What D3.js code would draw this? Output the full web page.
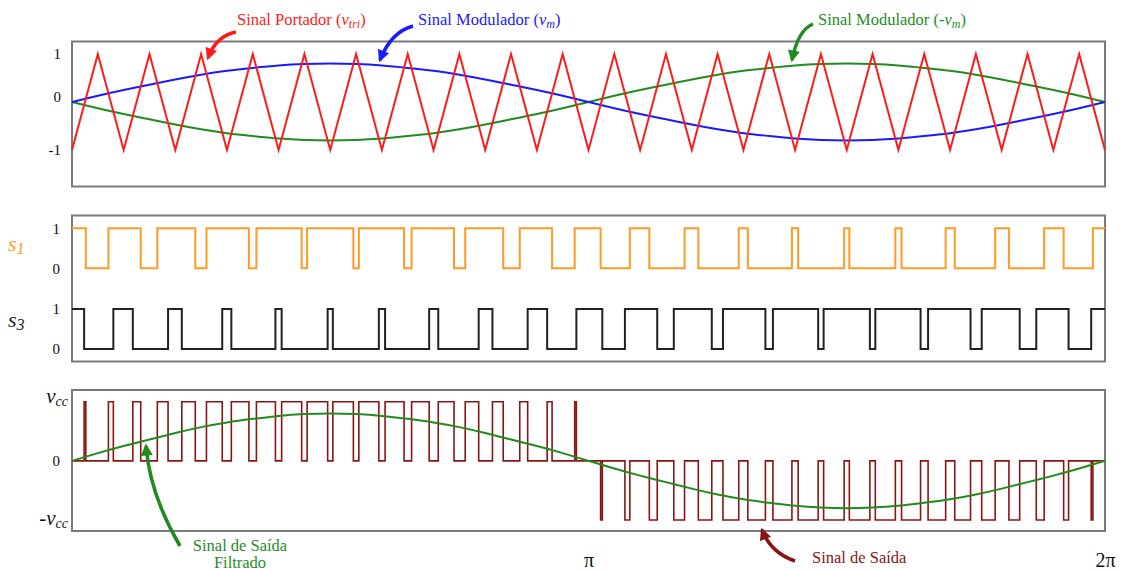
<!DOCTYPE html>
<html><head><meta charset="utf-8">
<script src="https://cdn.jsdelivr.net/npm/d3@7"></script>
<style>body{margin:0;background:#fff}svg{display:block}</style>
</head><body>
<svg id="chart" width="1121" height="572"></svg>
<script>
// ---------- data ----------
// triangular carrier: vertex values, 20 periods over 0..2π (vertices every π/20)
const carrierVertices = [-1,1,-1,1,-1,1,-1,1,-1,1,-1,1,-1,1,-1,1,-1,1,-1,1,-1,
                          1,-1,1,-1,1,-1,1,-1,1,-1,1,-1,1,-1,1,-1,1,-1,1,-1];
// modulating signal v_m at the same instants (amplitude ≈ 0.8)
const modulator = [0,0.13,0.25,0.36,0.47,0.57,0.65,0.71,0.76,0.79,0.80,0.79,0.76,0.71,0.65,0.57,0.47,0.36,0.25,0.13,0,
                   -0.13,-0.25,-0.36,-0.47,-0.57,-0.65,-0.71,-0.76,-0.79,-0.80,-0.79,-0.76,-0.71,-0.65,-0.57,-0.47,-0.36,-0.25,-0.13,0];
const topTicks = [1, 0, -1];
const topTickLabels = ["1", "0", "-1"];
const switchTicks = [1, 0];
const switchTickLabels = ["1", "0"];
const outTicks = [1, 0, -1];
const outTickLabels = [["v","cc",""], ["0","",""], ["v","cc","-"]];
const xTicks = [Math.PI, 2 * Math.PI];
const xTickLabels = ["π", "2π"];

// ---------- layout ----------
const FONT = "Liberation Serif, DejaVu Serif, serif";
const svg = d3.select("#chart").attr("font-family", FONT);
const X0 = 72, X1 = 1105;
const x = d3.scaleLinear().domain([0, 2 * Math.PI]).range([X0, X1]);
const yTop = d3.scaleLinear().domain([-1, 1]).range([150, 54]);
const yS1 = d3.scaleLinear().domain([0, 1]).range([268.3, 228.3]);
const yS3 = d3.scaleLinear().domain([0, 1]).range([349, 309]);
const yOut = d3.scaleLinear().domain([-1, 1]).range([520, 401.7]);

const nSeg = carrierVertices.length - 1;
const tAt = k => k * 2 * Math.PI / nSeg;

const C = {
  red: "#ff1a1a", blue: "#1a1aff", green: "#1f8c1f", orange: "#ff9a26",
  black: "#222", dark: "#8b1414", box: "#7a7a7a"
};

// boxes
[[41.5, 186.5], [215.5, 361.5], [390, 531]].forEach(([a, b]) => {
  svg.append("rect").attr("x", X0).attr("y", a).attr("width", X1 - X0).attr("height", b - a)
    .attr("fill", "none").attr("stroke", C.box).attr("stroke-width", 2);
});

// ---------- top panel ----------
const carrierPts = carrierVertices.map((v, k) => [tAt(k), v]);
const modPts = modulator.map((v, k) => [tAt(k), v]);
const negModPts = modulator.map((v, k) => [tAt(k), -v]);

const lineTop = d3.line().x(d => x(d[0])).y(d => yTop(d[1]));
const lineTopSmooth = d3.line().x(d => x(d[0])).y(d => yTop(d[1])).curve(d3.curveNatural);

svg.append("path").attr("d", lineTopSmooth(negModPts)).attr("fill", "none").attr("stroke", C.green).attr("stroke-width", 2);
svg.append("path").attr("d", lineTopSmooth(modPts)).attr("fill", "none").attr("stroke", C.blue).attr("stroke-width", 2);
svg.append("path").attr("d", lineTop(carrierPts)).attr("fill", "none").attr("stroke", C.red).attr("stroke-width", 2);

// ---------- switching signals derived from carrier vs modulator ----------
function switching(sign) {
  const pts = [];
  let v = sign * modulator[0] > carrierVertices[0] ? 1 : 0;
  pts.push([0, v]);
  for (let k = 0; k < nSeg; k++) {
    const c0 = carrierVertices[k], c1 = carrierVertices[k + 1];
    const m0 = sign * modulator[k], m1 = sign * modulator[k + 1];
    const f = (m0 - c0) / ((c1 - c0) - (m1 - m0));
    if (f > 0 && f < 1) {
      v = c1 > c0 ? 0 : 1;
      pts.push([tAt(k + f), v]);
    }
  }
  pts.push([2 * Math.PI, v]);
  return pts;
}
const s1 = switching(1);
const s3 = switching(-1);

const valAt = (pts, t) => { let v = pts[0][1]; for (const p of pts) { if (p[0] <= t) v = p[1]; else break; } return v; };
const times = Array.from(new Set(s1.map(d => d[0]).concat(s3.map(d => d[0])))).sort((a, b) => a - b);
const out = times.map(t => [t, valAt(s1, t) - valAt(s3, t)]);

svg.append("path").attr("d", d3.line().x(d => x(d[0])).y(d => yS1(d[1])).curve(d3.curveStepAfter)(s1))
  .attr("fill", "none").attr("stroke", C.orange).attr("stroke-width", 2);
svg.append("path").attr("d", d3.line().x(d => x(d[0])).y(d => yS3(d[1])).curve(d3.curveStepAfter)(s3))
  .attr("fill", "none").attr("stroke", C.black).attr("stroke-width", 2);

// ---------- output ----------
svg.append("path").attr("d", d3.line().x(d => x(d[0])).y(d => yOut(d[1])).curve(d3.curveStepAfter)(out))
  .attr("fill", "none").attr("stroke", C.dark).attr("stroke-width", 1.6);
svg.append("path").attr("d", d3.line().x(d => x(d[0])).y(d => yOut(d[1])).curve(d3.curveNatural)(modPts))
  .attr("fill", "none").attr("stroke", C.green).attr("stroke-width", 2);

// ---------- axes ----------
function styleAxis(g) {
  g.attr("font-family", FONT);
  g.select(".domain").remove();
  g.selectAll("line").remove();
  g.selectAll("text").attr("fill", "#111");
}
svg.append("g").attr("transform", `translate(${X0 - 11},0)`)
  .call(d3.axisLeft(yTop).tickValues(topTicks).tickSize(0).tickPadding(0).tickFormat((d, i) => topTickLabels[i]))
  .call(styleAxis).selectAll("text").attr("font-size", "15px").attr("dy", (d) => d === 0 ? "-0.05em" : "0.32em");

[yS1, yS3].forEach(sc => {
  svg.append("g").attr("transform", `translate(${X0 - 12},0)`)
    .call(d3.axisLeft(sc).tickValues(switchTicks).tickSize(0).tickPadding(0).tickFormat((d, i) => switchTickLabels[i]))
    .call(styleAxis).selectAll("text").attr("font-size", "15px").attr("dy", "0.32em");
});

const gOut = svg.append("g").attr("transform", `translate(${X0 - 3},0)`)
  .call(d3.axisLeft(yOut).tickValues(outTicks).tickSize(0).tickPadding(0).tickFormat(() => ""))
  .call(styleAxis);
gOut.selectAll(".tick text").each(function (d, i) {
  const [main, sub, pre] = outTickLabels[i];
  const t = d3.select(this).attr("dy", "0.32em");
  if (!sub) {
    t.attr("x", -9).attr("font-size", "15px").text(main);
  } else {
    t.attr("x", -1).attr("font-size", "21px").attr("dy", d > 0 ? "0.05em" : "0.2em");
    if (pre) t.append("tspan").text(pre);
    t.append("tspan").attr("font-style", "italic").text(main);
    t.append("tspan").attr("font-style", "italic").attr("font-size", "14px").attr("dy", "3").text(sub);
  }
});

svg.append("g").attr("transform", "translate(0,548)")
  .call(d3.axisBottom(x).tickValues(xTicks).tickSize(0).tickPadding(0).tickFormat((d, i) => xTickLabels[i]))
  .call(styleAxis).selectAll("text").attr("font-size", "20px").attr("dy", "0.95em");

// s1 / s3 labels
function subLabel(xp, yp, main, sub, color) {
  const t = svg.append("text").attr("x", xp).attr("y", yp).attr("fill", color)
    .attr("font-size", "22px").attr("font-style", "italic");
  t.append("tspan").text(main);
  t.append("tspan").attr("font-size", "16px").attr("dy", "3").text(sub);
}
subLabel(8, 251, "s", "1", C.orange);
subLabel(8, 327, "s", "3", C.black);

// ---------- annotations ----------
const defs = svg.append("defs");
function marker(id, color) {
  defs.append("marker").attr("id", id).attr("viewBox", "0 0 10 10").attr("refX", 8).attr("refY", 5)
    .attr("markerWidth", 13).attr("markerHeight", 12).attr("markerUnits", "userSpaceOnUse").attr("orient", "auto")
    .append("path").attr("d", "M0,0 L10,5 L0,10 z").attr("fill", color);
}
marker("aRed", C.red); marker("aBlue", C.blue); marker("aGreen", C.green); marker("aDark", C.dark);

function arrow(d, color, id) {
  svg.append("path").attr("d", d).attr("fill", "none").attr("stroke", color).attr("stroke-width", 3.5)
    .attr("marker-end", `url(#${id})`);
}
arrow("M236,32 Q216,36 208,58", C.red, "aRed");
arrow("M413,26 Q391,32 380,60", C.blue, "aBlue");
arrow("M813,24 Q798,30 792,60", C.green, "aGreen");
arrow("M180,546 Q150,495 146,446", C.green, "aGreen");
arrow("M795,561 Q771,553 762,530", C.dark, "aDark");

function label(xp, yp, parts, color, anchor) {
  const t = svg.append("text").attr("x", xp).attr("y", yp).attr("fill", color)
    .attr("font-size", "16.5px").attr("text-anchor", anchor || "start");
  parts.forEach(p => {
    const s = t.append("tspan").text(p.t);
    if (p.i) s.attr("font-style", "italic");
    if (p.sub) s.attr("font-size", "12px").attr("dy", 3);
    if (p.up) s.attr("dy", -3);
  });
  return t;
}
label(237, 25, [{t: "Sinal Portador ("}, {t: "v", i: 1}, {t: "tri", i: 1, sub: 1}, {t: ")", up: 1}], C.red);
label(418, 25, [{t: "Sinal Modulador ("}, {t: "v", i: 1}, {t: "m", i: 1, sub: 1}, {t: ")", up: 1}], C.blue);
label(818, 25, [{t: "Sinal Modulador (-"}, {t: "v", i: 1}, {t: "m", i: 1, sub: 1}, {t: ")", up: 1}], C.green);
label(240, 551, [{t: "Sinal de Saída"}], C.green, "middle");
label(240, 568, [{t: "Filtrado"}], C.green, "middle");
label(812, 563, [{t: "Sinal de Saída"}], C.dark);
</script>
</body></html>
